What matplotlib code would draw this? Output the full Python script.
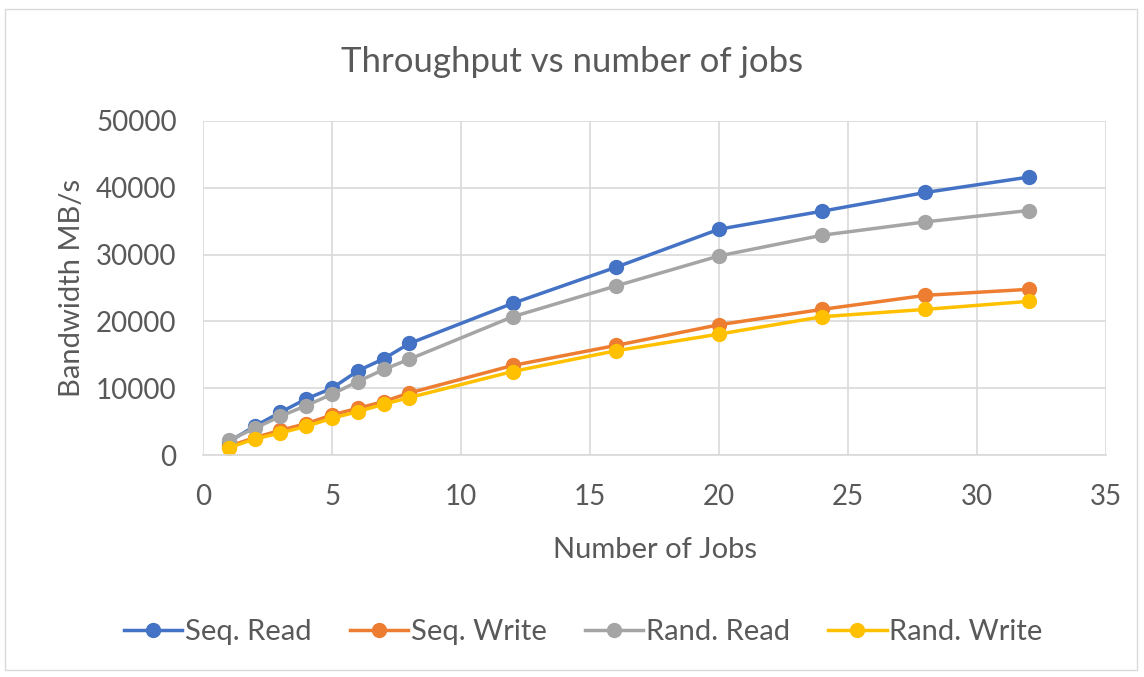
import numpy as np
import matplotlib.pyplot as plt
from matplotlib.patches import Rectangle

jobs = [1, 2, 3, 4, 5, 6, 7, 8, 12, 16, 20, 24, 28, 32]
seq_read = [2000, 4300, 6400, 8400, 10000, 12600, 14400, 16700, 22700, 28100, 33800, 36500, 39300, 41600]
seq_write = [1300, 2600, 3700, 4700, 6000, 7000, 8000, 9300, 13400, 16400, 19500, 21800, 23900, 24800]
rand_read = [2200, 4000, 5800, 7400, 9100, 11000, 12800, 14350, 20700, 25300, 29800, 32900, 34900, 36600]
rand_write = [1100, 2400, 3300, 4300, 5500, 6500, 7600, 8600, 12500, 15600, 18100, 20700, 21800, 23000]

names = ["Seq. Read", "Seq. Write", "Rand. Read", "Rand. Write"]
colors = ["#4472C4", "#ED7D31", "#A5A5A5", "#FFC000"]
txt = "#595959"

plt.rcParams['font.family'] = ['Lato', 'DejaVu Sans']

fig = plt.figure(figsize=(11.44, 6.77), dpi=100)
fig.patches.append(Rectangle((0.004, 0.01), 0.99, 0.977, transform=fig.transFigure,
                             fill=False, edgecolor="#D9D9D9", linewidth=1))
ax = fig.add_axes([0.1775, 0.3279, 0.7893, 0.4934])

for ys, name, c in zip([seq_read, seq_write, rand_read, rand_write], names, colors):
	ax.plot(jobs, ys, '-o', color=c, label=name, linewidth=2.5, markersize=10)

ax.set_xlim(0, 35)
ax.set_ylim(0, 50000)
ax.set_xticks(np.arange(0, 36, 5))
ax.set_yticks(np.arange(0, 50001, 10000))
ax.grid(True, color="#D9D9D9", linewidth=1.2)
ax.set_axisbelow(True)
for s in ["top", "right", "left"]:
	ax.spines[s].set_visible(False)
ax.spines["bottom"].set_color("#D9D9D9")
ax.spines["bottom"].set_linewidth(1.2)
ax.tick_params(length=0, labelsize=20, colors=txt)
ax.tick_params(axis="x", pad=21)
ax.tick_params(axis="y", pad=19)

ax.set_xlabel("Number of Jobs", fontsize=21, color=txt, labelpad=19)
ax.set_ylabel("Bandwidth MB/s", fontsize=21, color=txt, labelpad=8)
fig.text(0.5, 0.909, "Throughput vs number of jobs", ha="center", va="center", fontsize=25, color=txt)

fig.legend(loc="center", bbox_to_anchor=(0.51, 0.066), ncol=4, frameon=False, fontsize=21,
           labelcolor=txt, handlelength=2.0, handletextpad=0.1, columnspacing=1.3)

fig.savefig("out.png", dpi=100)
